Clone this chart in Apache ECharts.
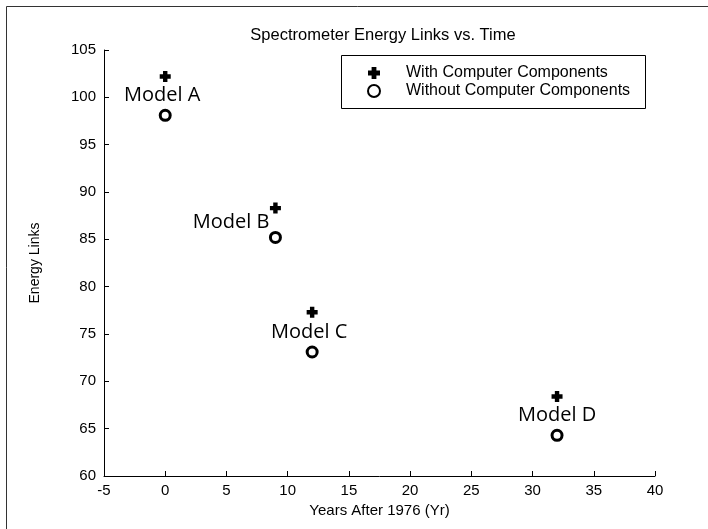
<!DOCTYPE html>
<html>
<head>
<meta charset="utf-8">
<script src="https://cdn.jsdelivr.net/npm/echarts@6/dist/echarts.min.js"></script>
<style>
  html, body { margin: 0; padding: 0; background: #fff; }
  #chart { width: 708px; height: 529px; }
</style>
</head>
<body>
<div id="chart"></div>
<script>
// Years after 1976 for each spectrometer model
const years = [0, 9, 12, 32];
// Energy links counted with and without the computer components
const withComponents = [102.2, 88.3, 77.3, 68.4];
const withoutComponents = [98.1, 85.2, 73.1, 64.3];
const modelNames = ['Model A', 'Model B', 'Model C', 'Model D'];

// Placement of each model's name relative to its open-circle marker
const nameLabelStyle = [
  { offset: [-3, -20], align: 'center' },
  { offset: [-6, -15], align: 'right' },
  { offset: [-3, -20], align: 'center' },
  { offset: [0, -20], align: 'center' }
];

const plusPath = 'path://M3,0 H7 V3 H10 V7 H7 V10 H3 V7 H0 V3 H3 Z';
const axisFont = 'Liberation Sans, Arial, sans-serif';

const chart = echarts.init(document.getElementById('chart'), null, { renderer: 'canvas' });

chart.setOption({
  backgroundColor: '#ffffff',
  animation: false,
  title: {
    text: 'Spectrometer Energy Links vs. Time',
    left: 378,
    textAlign: 'center',
    top: 22,
    textStyle: { fontFamily: axisFont, fontSize: 16.5, fontWeight: 'normal', color: '#000' }
  },
  graphic: [{
    type: 'polyline',
    shape: { points: [[6.5, 529], [6.5, 6.5], [708, 6.5]] },
    style: { stroke: '#333', lineWidth: 1, fill: null },
    silent: true
  }, {
    type: 'rect',
    shape: { x: 341.5, y: 55.5, width: 304, height: 53 },
    style: { stroke: '#000', lineWidth: 1, fill: '#fff' },
    z: 1,
    silent: true
  }],
  legend: {
    orient: 'vertical',
    left: 367,
    top: 65,
    padding: 0,
    itemWidth: 12,
    itemHeight: 12,
    itemGap: 2,
    z: 5,
    textStyle: { fontFamily: axisFont, fontSize: 16, color: '#000', padding: [0, 0, 0, 21] },
    data: ['With Computer Components', 'Without Computer Components']
  },
  grid: { left: 104, right: 53, top: 50, bottom: 53, containLabel: false },
  xAxis: {
    type: 'value',
    min: -5,
    max: 40,
    interval: 5,
    name: 'Years After 1976 (Yr)',
    nameLocation: 'middle',
    nameGap: 22,
    nameTextStyle: { fontFamily: axisFont, fontSize: 15, color: '#000' },
    axisLine: { onZero: false, lineStyle: { color: '#000', width: 1 } },
    axisTick: { inside: true, length: 5, lineStyle: { color: '#000' } },
    axisLabel: { fontFamily: axisFont, fontSize: 15, color: '#000', margin: 7 },
    splitLine: { show: false }
  },
  yAxis: {
    type: 'value',
    min: 60,
    max: 105,
    interval: 5,
    name: 'Energy Links',
    nameLocation: 'middle',
    nameGap: 62,
    nameTextStyle: { fontFamily: axisFont, fontSize: 14, color: '#000' },
    axisLine: { show: true, onZero: false, lineStyle: { color: '#000', width: 1 } },
    axisTick: { show: true, inside: true, length: 5, lineStyle: { color: '#000' } },
    axisLabel: { fontFamily: axisFont, fontSize: 15, color: '#000', margin: 8 },
    splitLine: { show: false }
  },
  series: [{
    name: 'With Computer Components',
    type: 'scatter',
    symbol: plusPath,
    symbolSize: 11,
    itemStyle: { color: '#000', opacity: 1 },
    data: years.map((x, i) => [x, withComponents[i]])
  }, {
    name: 'Without Computer Components',
    type: 'scatter',
    symbol: 'circle',
    symbolSize: 10,
    itemStyle: { color: '#fff', borderColor: '#000', borderWidth: 3, opacity: 1 },
    data: years.map((x, i) => ({
      value: [x, withoutComponents[i]],
      label: {
        show: true,
        position: 'inside',
        offset: nameLabelStyle[i].offset,
        align: nameLabelStyle[i].align,
        verticalAlign: 'middle',
        formatter: modelNames[i],
        fontFamily: 'Open Sans, Noto Sans, sans-serif',
        fontSize: 20,
        color: '#000',
        textBorderWidth: 0
      }
    }))
  }]
});
</script>
</body>
</html>
